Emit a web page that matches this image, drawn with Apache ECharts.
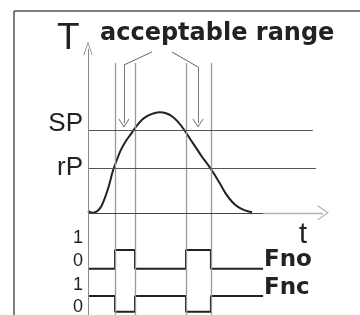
<!DOCTYPE html>
<html><head><meta charset="utf-8">
<script src="https://cdn.jsdelivr.net/npm/echarts@6/dist/echarts.min.js"></script>
<style>html,body{margin:0;padding:0;background:#fff}#c{width:360px;height:315px}</style>
</head><body><div id="c"></div>
<script>
// ---- data (time units on x, temperature units on y) ----
var curveX = [0, 0.17, 0.38, 0.55, 0.72, 0.89, 1.06, 1.23, 1.40, 1.62, 1.83, 2.04, 2.30, 2.55, 2.81, 3.06, 3.32, 3.57, 3.83, 4.09, 4.34, 4.60, 4.85, 5.11, 5.36, 5.62, 5.87, 6.13, 6.38, 6.68, 6.98];
var curveT = [1.2, 0, 0.9, 3.6, 9.1, 16.4, 25.5, 32.2, 38.2, 43.7, 47.9, 52.2, 56.4, 58.9, 60.4, 61.0, 60.4, 58.6, 55.2, 50.4, 44.9, 39.4, 34.0, 29.1, 23.7, 17.6, 11.5, 6.7, 3.6, 1.5, 0.3];
var SP = 50.0;
var rP = 27.3;
var switchTimes = [1.15, 2.0, 4.17, 5.23];          // crossings of rP / SP
var signalEdges = [0, 1.15, 2.0, 4.17, 5.23, 7.45];
var fnoStates = [0, 1, 0, 1, 0];
var fncStates = [1, 0, 1, 0, 1];
var tickLabels = ['1', '0', '1', '0'];

// row layout for the two switch signals (in y units of the shared axis)
var fnoRow = {low: -34.0, high: -22.5};
var fncRow = {low: -60.1, high: -50.4};

function stepData(states, row) {
  var out = [];
  for (var i = 0; i < states.length; i++) {
    var lv = states[i] ? row.high : row.low;
    out.push([signalEdges[i], lv]);
    out.push([signalEdges[i + 1], lv]);
  }
  return out;
}
var curveData = curveX.map(function (x, i) { return [x, curveT[i]]; });

var openArrow = 'path://M0,0 L10,10 L9,11 L0,2 L-9,11 L-10,10 Z';
var grey = '#8a8a8a';

var vLines = switchTimes.map(function (x) {
  return [{coord: [x, 90.9], lineStyle: {color: '#9a9a9a', width: 1.3}}, {coord: [x, -62]}];
});

function txt(x, y, s, font, align) {
  return {type: 'text', x: x, y: y, style: {text: s, font: font, fill: '#222', textAlign: align || 'left', textVerticalAlign: 'top'}};
}

var chart = echarts.init(document.getElementById('c'), null, {renderer: 'canvas'});
chart.setOption({
  animation: false,
  backgroundColor: '#fff',
  grid: {left: 88, top: 48, width: 235, height: 267, containLabel: false},
  xAxis: {type: 'value', min: 0, max: 10, show: false},
  yAxis: {type: 'value', min: -62, max: 100, show: false},
  series: [
    {
      type: 'line', name: 'guides', data: [], silent: true,
      markLine: {
        silent: true, symbol: ['none', 'none'], label: {show: false},
        lineStyle: {type: 'solid'},
        data: [].concat(vLines, [
          [{coord: [0, SP], lineStyle: {color: '#555', width: 1}}, {coord: [9.57, SP]}],
          [{coord: [0, rP], lineStyle: {color: '#555', width: 1}}, {coord: [9.7, rP]}],
          [{coord: [0, 0], lineStyle: {color: '#444', width: 1}}, {coord: [7.45, 0]}],
          // "acceptable range" pointer diagonals
          [{coord: [2.72, 97.6], lineStyle: {color: '#666', width: 1}}, {coord: [1.53, 89.7]}],
          [{coord: [3.57, 97.6], lineStyle: {color: '#666', width: 1}}, {coord: [4.68, 88.5]}]
        ])
      }
    },
    {
      type: 'line', name: 'arrows', data: [], silent: true,
      markLine: {
        silent: true, symbol: ['none', openArrow], symbolSize: [11, 9], label: {show: false},
        lineStyle: {type: 'solid'},
        data: [
          [{coord: [0, -62], lineStyle: {color: grey, width: 1}}, {coord: [0, 99.5], symbolSize: [9, 14]}],
          [{coord: [7.45, 0], lineStyle: {color: '#b5b5b5', width: 1.3}}, {coord: [10, 0], symbolSize: [15, 12]}],
          [{coord: [1.53, 89.7], lineStyle: {color: '#777', width: 1}}, {coord: [1.53, 54.5]}],
          [{coord: [4.68, 88.5], lineStyle: {color: '#777', width: 1}}, {coord: [4.68, 54.5]}]
        ]
      }
    },
    {
      type: 'line', name: 'T', data: curveData, smooth: 0.3, showSymbol: false,
      lineStyle: {color: '#222', width: 2}
    },
    {
      type: 'line', name: 'Fno', data: stepData(fnoStates, fnoRow), showSymbol: false,
      lineStyle: {color: '#222', width: 2}
    },
    {
      type: 'line', name: 'Fnc', data: stepData(fncStates, fncRow), showSymbol: false,
      lineStyle: {color: '#222', width: 2}
    }
  ],
  graphic: [
    {type: 'line', shape: {x1: 14, y1: 11, x2: 14, y2: 315}, style: {stroke: '#555', lineWidth: 1.5}},
    {type: 'line', shape: {x1: 14, y1: 11, x2: 360, y2: 11}, style: {stroke: '#555', lineWidth: 1.5}},
    txt(57, 20, 'T', '37px "Liberation Sans", Arial'),
    txt(100, 22, 'acceptable range', 'bold 24px "DejaVu Sans"'),
    txt(299, 220, 't', '29px "Liberation Sans", Arial'),
    txt(83, 111, 'SP', '26px "Liberation Sans", Arial', 'right'),
    txt(83, 155, 'rP', '26px "Liberation Sans", Arial', 'right'),
    txt(78, 229, tickLabels[0], '18px "Liberation Sans", Arial', 'center'),
    txt(78, 252, tickLabels[1], '18px "Liberation Sans", Arial', 'center'),
    txt(78, 276, tickLabels[2], '18px "Liberation Sans", Arial', 'center'),
    txt(78, 298, tickLabels[3], '18px "Liberation Sans", Arial', 'center'),
    txt(264, 249, 'Fno', 'bold 23px "DejaVu Sans"'),
    txt(264, 277, 'Fnc', 'bold 23px "DejaVu Sans"')
  ]
});
</script></body></html>
